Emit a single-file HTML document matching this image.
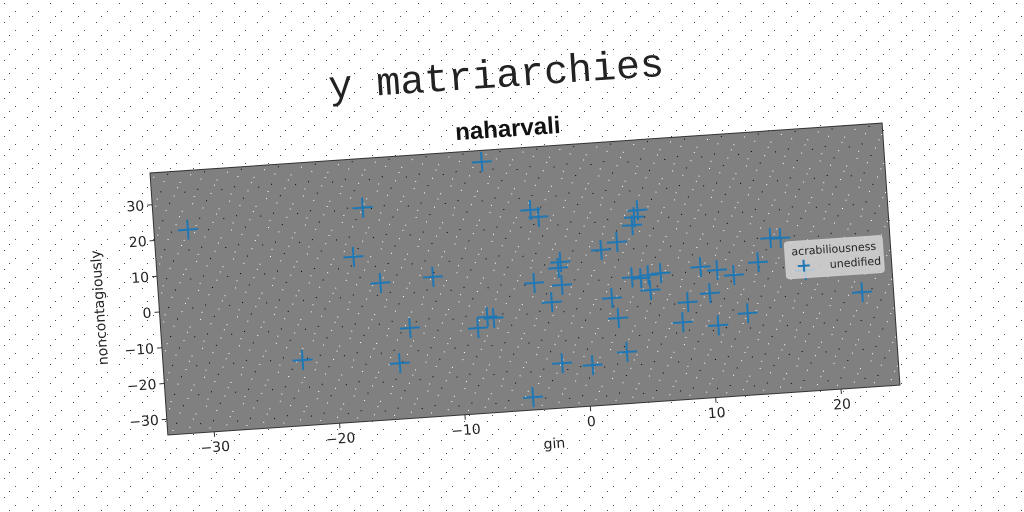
<!DOCTYPE html>
<html><head><meta charset="utf-8"><style>
html,body{margin:0;padding:0;background:#fff;}
svg{display:block;font-family:"DejaVu Sans","Liberation Sans",sans-serif;}
</style></head><body>
<svg id="chart" width="1024" height="512" viewBox="0 0 1024 512" xmlns="http://www.w3.org/2000/svg">
<defs>
<pattern id="noise" width="37" height="29" patternUnits="userSpaceOnUse">
<rect x="3" y="4" width="1" height="1" fill="#fff"/><rect x="17" y="2" width="1" height="1" fill="#000"/><rect x="29" y="11" width="1" height="1" fill="#fff"/><rect x="9" y="19" width="1" height="1" fill="#000"/><rect x="22" y="24" width="1" height="1" fill="#fff"/><rect x="33" y="21" width="1" height="1" fill="#000"/><rect x="13" y="9" width="1" height="1" fill="#fff"/><rect x="26" y="16" width="1" height="1" fill="#fff"/><rect x="5" y="26" width="1" height="1" fill="#fff"/>
</pattern>
<pattern id="noise2" width="23" height="19" patternUnits="userSpaceOnUse">
<rect x="4" y="3" width="1" height="1" fill="#444"/><rect x="15" y="11" width="1" height="1" fill="#555"/><rect x="9" y="16" width="1" height="1" fill="#444"/>
</pattern>
</defs>
<rect width="1024" height="512" fill="#fff"/>
<rect width="1024" height="512" fill="url(#noise2)"/>
<g id="root" transform="translate(150,173) rotate(-3.9)">
<text x="352" y="-62" text-anchor="middle" font-family="Liberation Mono, monospace" font-size="40" fill="#222">y matriarchies</text>
<text x="360" y="-12" text-anchor="middle" font-family="Liberation Sans, sans-serif" font-weight="bold" font-size="24" fill="#111">naharvali</text>
<rect x="0" y="0" width="733.8" height="262.6" fill="#808080" stroke="#333" stroke-width="1"/>
<rect x="0" y="0" width="733.8" height="262.6" fill="url(#noise)"/>
<g id="axes"></g>
<g id="marks"></g>
<text x="385" y="302" text-anchor="middle" font-size="14" fill="#222">gin</text>
<text transform="translate(-55,131) rotate(-90)" text-anchor="middle" font-size="14" fill="#222">noncontagiously</text>
<g>
<rect x="628" y="112" width="98" height="37" rx="3" fill="#d9d9d9" fill-opacity="0.8" stroke="#ccc"/>
<text x="677" y="126" text-anchor="middle" font-size="11" fill="#222">acrabiliousness</text>
<path d="M640 137 h12 M646 131 v12" stroke="#1f77b4" stroke-width="2"/>
<text x="672" y="141" font-size="11" fill="#222">unedified</text>
</g>
</g>
</svg>
<script>
const xVals=[-31.0,-17.0,-18.0,-16.0,-11.8,-13.9,-14.9,-22.6,-7.3,-3.7,-3.1,-8.5,-7.7,-7.2,-3.8,-4.5,-1.6,-1.8,-1.6,-2.5,-2.0,0.4,1.7,3.0,2.3,2.7,3.2,4.8,4.5,4.3,4.0,4.7,5.3,6.3,5.4,8.3,7.8,10.1,10.6,9.5,10.8,12.1,13.0,14.1,15.2,16.0,17.8,22.2];
const yVals=[22.4,25.2,11.7,3.9,4.6,-9.2,-18.8,-16.1,35.7,21.4,19.3,-10.5,-7.6,-8.0,1.0,-30.8,6.3,4.7,-0.1,-4.7,-21.9,-23.0,8.9,10.8,-4.7,-10.4,-20.0,19.3,17.4,15.2,0.7,0.3,1.0,1.3,-3.2,-7.3,-12.8,-5.2,-14.3,2.3,1.1,-0.6,-11.5,2.5,9.0,8.8,-0.6,-7.8];
const xTicks=[-30,-20,-10,0,10,20];
const yTicks=[-30,-20,-10,0,10,20,30];
const W=733.8,H=262.6,XMIN=-33.7,XMAX=24.7,YMIN=-34.4,YMAX=38.9;
const NS="http://www.w3.org/2000/svg";
function sx(v){return (v-XMIN)/(XMAX-XMIN)*W;}
function sy(v){return H-(v-YMIN)/(YMAX-YMIN)*H;}
const axes=document.getElementById('axes');
const marks=document.getElementById('marks');
xTicks.forEach(t=>{
  const l=document.createElementNS(NS,'line');
  l.setAttribute('x1',sx(t));l.setAttribute('x2',sx(t));l.setAttribute('y1',H);l.setAttribute('y2',H+5);
  l.setAttribute('stroke','#333');
  
  
  axes.appendChild(l);
  const tx=document.createElementNS(NS,'text');
  tx.setAttribute('x',sx(t));tx.setAttribute('y',H+20);tx.setAttribute('text-anchor','middle');
  tx.setAttribute('font-size','14');tx.setAttribute('fill','#222');
  tx.textContent=t<0?'\u2212'+Math.abs(t):String(t);
  
  
  axes.appendChild(tx);
});
yTicks.forEach(t=>{
  const l=document.createElementNS(NS,'line');
  l.setAttribute('x1',-5);l.setAttribute('x2',0);l.setAttribute('y1',sy(t));l.setAttribute('y2',sy(t));
  l.setAttribute('stroke','#333');
  
  
  axes.appendChild(l);
  const tx=document.createElementNS(NS,'text');
  tx.setAttribute('x',-8);tx.setAttribute('y',sy(t)+5);tx.setAttribute('text-anchor','end');
  tx.setAttribute('font-size','14');tx.setAttribute('fill','#222');
  tx.textContent=t<0?'\u2212'+Math.abs(t):String(t);
  
  
  axes.appendChild(tx);
});
xVals.forEach((x,i)=>{
  const px=sx(x),py=sy(yVals[i]);
  const p=document.createElementNS(NS,'path');
  p.setAttribute('d',`M${px-10} ${py} H${px+10} M${px} ${py-10} V${py+10}`);
  p.setAttribute('stroke','#1f77b4');p.setAttribute('stroke-width','2');
  
  
  marks.appendChild(p);
});
</script>
</body></html>
